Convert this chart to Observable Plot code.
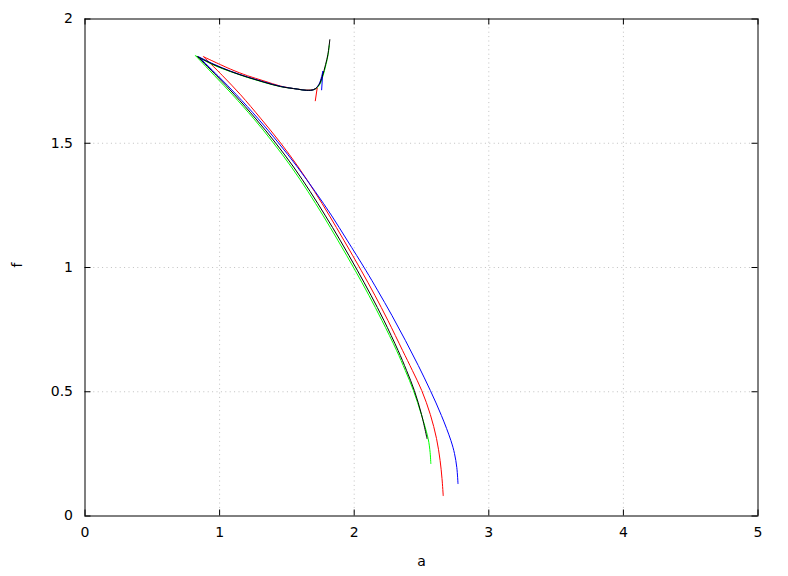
<!DOCTYPE html>
<html>
<head>
<meta charset="utf-8">
<script src="https://cdn.jsdelivr.net/npm/d3@7"></script>
<script src="https://cdn.jsdelivr.net/npm/@observablehq/plot@0.6"></script>
<style>
  html, body { margin: 0; padding: 0; background: white; }
</style>
</head>
<body>
<div id="chart"></div>
<script>
// Tick values / labels
const xTicks = [0, 1, 2, 3, 4, 5];
const yTicks = [0, 0.5, 1, 1.5, 2];
const xTickLabels = ["0", "1", "2", "3", "4", "5"];
const yTickLabels = ["0", "0.5", "1", "1.5", "2"];
const xGrid = [1, 2, 3, 4];
const yGrid = [0.5, 1, 1.5];

// Series colours
const seriesNames = ["s1", "s2", "s3", "s4"];
const seriesColors = ["#ff0000", "#00ff00", "#0000ff", "#000000"];

// Lower branches [a, f]
const redLower = [[0.8814,1.8480],[1.0225,1.7714],[1.1562,1.6948],[1.3084,1.5980],[1.4532,1.5012],[1.5846,1.4044],[1.7056,1.3056],[1.8133,1.2109],[1.9225,1.1101],[2.0510,0.9891],[2.1534,0.8883],[2.2499,0.7875],[2.3591,0.6665],[2.4319,0.5859],[2.5016,0.5052],[2.5655,0.4085],[2.6116,0.3117],[2.6383,0.2230],[2.6524,0.1504],[2.6613,0.0819]];
const greenLower = [[0.8220,1.8520],[0.9631,1.7714],[1.0968,1.6948],[1.2549,1.5980],[1.3997,1.5012],[1.5334,1.4044],[1.6566,1.3056],[1.7665,1.2109],[1.8779,1.1101],[2.0064,0.9891],[2.1089,0.8883],[2.2054,0.7875],[2.3146,0.6665],[2.3792,0.5859],[2.4400,0.5052],[2.4987,0.4085],[2.5492,0.3117],[2.5641,0.2552],[2.5693,0.2109]];
const blueLower = [[0.8443,1.8480],[0.9883,1.7714],[1.1257,1.6948],[1.2876,1.5980],[1.4376,1.5012],[1.5779,1.4044],[1.7101,1.3056],[1.8297,1.2109],[1.9470,1.1101],[2.0858,0.9891],[2.1735,0.9085],[2.2796,0.8077],[2.3799,0.7069],[2.4757,0.6060],[2.5655,0.5052],[2.6480,0.4044],[2.7185,0.3036],[2.7452,0.2512],[2.7623,0.1948],[2.7712,0.1302]];
const blackLower = [[0.8369,1.8480],[0.9779,1.7714],[1.1116,1.6948],[1.2698,1.5980],[1.4161,1.5012],[1.5497,1.4044],[1.6730,1.3056],[1.7829,1.2109],[1.8950,1.1101],[2.0227,0.9891],[2.1245,0.8883],[2.2202,0.7875],[2.3257,0.6665],[2.3888,0.5859],[2.4467,0.5052],[2.5002,0.4085],[2.5410,0.3117]];

// Upper branches [a, f]
const redUpper = [[0.8814,1.8480],[1.082,1.798],[1.206,1.772],[1.329,1.751],[1.453,1.730],[1.577,1.718],[1.650,1.714],[1.700,1.716],[1.725,1.722]];
const greenUpper = [[0.8220,1.8520],[0.958,1.814],[1.082,1.788],[1.206,1.765],[1.329,1.745],[1.453,1.728],[1.577,1.718],[1.644,1.713],[1.702,1.716],[1.742,1.735],[1.767,1.769],[1.790,1.816],[1.806,1.856],[1.815,1.895]];
const blueUpper = [[0.8443,1.8480],[0.958,1.818],[1.082,1.790],[1.206,1.767],[1.329,1.747],[1.453,1.729],[1.577,1.718],[1.644,1.713],[1.700,1.716],[1.738,1.737],[1.767,1.789]];
const blackUpper = [[0.8369,1.8480],[0.958,1.816],[1.082,1.789],[1.206,1.766],[1.329,1.746],[1.453,1.728],[1.577,1.718],[1.644,1.713],[1.700,1.716],[1.738,1.735],[1.763,1.769],[1.787,1.816],[1.804,1.856],[1.819,1.917]];

// Short end hooks [a, f]
const redHook = [[1.725,1.722],[1.711,1.671]];
const blueHook = [[1.767,1.789],[1.758,1.715]];

const branches = [
  {series: 0, pts: redLower, curve: "catmull-rom"},
  {series: 0, pts: redUpper, curve: "catmull-rom"},
  {series: 0, pts: redHook, curve: "linear"},
  {series: 1, pts: greenLower, curve: "catmull-rom"},
  {series: 1, pts: greenUpper, curve: "catmull-rom"},
  {series: 2, pts: blueLower, curve: "catmull-rom"},
  {series: 2, pts: blueUpper, curve: "catmull-rom"},
  {series: 2, pts: blueHook, curve: "linear"},
  {series: 3, pts: blackLower, curve: "catmull-rom"},
  {series: 3, pts: blackUpper, curve: "catmull-rom"}
];

const W = 788, H = 576;
const mL = 84.5, mR = 30.5, mT = 18.5, mB = 60.5;
const frameH = H - mT - mB;
const frameW = W - mL - mR;
const tickLen = 6;

const lineMarks = branches.map(b => Plot.line(b.pts.map(([a, f]) => ({a, f, s: seriesNames[b.series]})), {
  x: "a", y: "f", stroke: "s", strokeWidth: 1, curve: b.curve
}));

const chart = Plot.plot({
  width: W,
  height: H,
  marginLeft: mL,
  marginRight: mR,
  marginTop: mT,
  marginBottom: mB,
  style: {fontFamily: "'DejaVu Sans', sans-serif", fontSize: "14px", background: "white", color: "black"},
  x: {domain: [0, 5], axis: null},
  y: {domain: [0, 2], axis: null},
  color: {type: "ordinal", domain: seriesNames, range: seriesColors},
  marks: [
    // dotted grid
    Plot.ruleX(xGrid, {x: d => d, stroke: "#c0c0c0", strokeWidth: 1, strokeDasharray: "1,3.4"}),
    Plot.ruleY(yGrid, {y: d => d, stroke: "#c0c0c0", strokeWidth: 1, strokeDasharray: "1,3.4"}),
    // inward ticks, bottom/top/left/right
    Plot.tickX(xTicks, {x: d => d, stroke: "black", insetTop: frameH - tickLen}),
    Plot.tickX(xTicks, {x: d => d, stroke: "black", insetBottom: frameH - tickLen}),
    Plot.tickY(yTicks, {y: d => d, stroke: "black", insetRight: frameW - tickLen}),
    Plot.tickY(yTicks, {y: d => d, stroke: "black", insetLeft: frameW - tickLen}),
    // curves
    ...lineMarks,
    Plot.frame({stroke: "black", strokeWidth: 1}),
    // tick labels
    Plot.text(xTicks, {x: d => d, text: (d, i) => xTickLabels[i], frameAnchor: "bottom", dy: 21, fill: "black", fontSize: 14}),
    Plot.text(yTicks, {y: d => d, text: (d, i) => yTickLabels[i], frameAnchor: "left", dx: -12, textAnchor: "end", fill: "black", fontSize: 14}),
    // axis labels
    Plot.text(["a"], {text: d => d, frameAnchor: "bottom", dy: 50, fill: "black", fontSize: 14}),
    Plot.text(["f"], {text: d => d, frameAnchor: "left", dx: -67, rotate: -90, fill: "black", fontSize: 14})
  ]
});
document.getElementById("chart").appendChild(chart);
</script>
</body>
</html>
